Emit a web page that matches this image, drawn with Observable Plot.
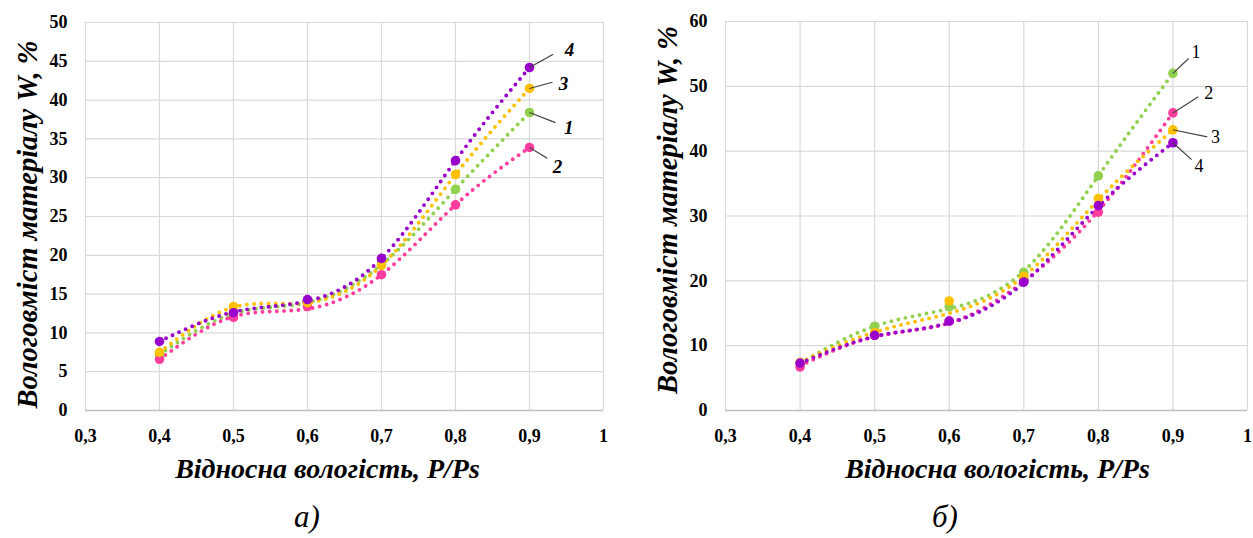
<!DOCTYPE html>
<html>
<head>
<meta charset="utf-8">
<script src="https://cdn.jsdelivr.net/npm/d3@7"></script>
<script src="https://cdn.jsdelivr.net/npm/@observablehq/plot@0.6"></script>
<style>
  html, body { margin: 0; padding: 0; background: #fff; }
  #page { position: relative; width: 1253px; height: 538px; overflow: hidden; font-family: "Liberation Serif", "Times New Roman", serif; }
  .panel { position: absolute; top: 0; }
  .panel svg { overflow: visible; font-family: "Liberation Serif", "Times New Roman", serif; }
  .cap { position: absolute; font-family: "Liberation Serif", serif; font-style: italic; font-size: 31px; color: #000; }
</style>
</head>
<body>
<div id="page">
  <div class="panel" id="left" style="left:0px"></div>
  <div class="panel" id="right" style="left:640px"></div>
  <div class="cap" style="left:294px; top:499px">а)</div>
  <div class="cap" style="left:932px; top:499px">б)</div>
</div>
<script>
// ---- data (measured points) ----
const humidity = [0.4, 0.5, 0.6, 0.7, 0.8, 0.9];
const seriesNames = ["1", "2", "3", "4"];
const seriesColors = ["#92d050", "#ff3d9e", "#ffc000", "#9900cc"];

// panel а) points
const leftS1 = [7.2, 12.6, 14.2, 18.8, 28.5, 38.4];
const leftS2 = [6.6, 12.0, 13.4, 17.5, 26.5, 33.9];
const leftS3 = [7.5, 13.4, 13.9, 18.7, 30.4, 41.5];
const leftS4 = [8.9, 12.6, 14.3, 19.6, 32.2, 44.2];
// panel а) trend line, read at the same humidity values
const leftT1 = [7.2, 12.5, 13.9, 18.8, 28.5, 38.4];
const leftT2 = [6.6, 12.1, 13.1, 17.5, 26.5, 33.9];
const leftT3 = [7.5, 13.3, 13.9, 18.7, 30.4, 41.5];
const leftT4 = [8.9, 12.7, 14.1, 19.6, 32.2, 44.2];

// panel б) points
const rightS1 = [7.3, 13.0, 16.0, 21.3, 36.2, 52.0];
const rightS2 = [6.7, 11.6, 13.8, 20.0, 30.6, 45.9];
const rightS3 = [7.4, 12.0, 16.9, 20.7, 32.7, 43.3];
const rightS4 = [7.3, 11.6, 13.8, 19.8, 31.6, 41.3];
// panel б) trend line, read at the same humidity values
const rightT1 = [7.3, 13.0, 15.7, 21.5, 36.2, 52.0];
const rightT2 = [6.9, 11.4, 13.5, 19.9, 30.8, 45.9];
const rightT3 = [7.4, 12.1, 15.0, 20.7, 32.5, 43.3];
const rightT4 = [7.3, 11.4, 13.5, 19.7, 31.5, 41.3];

const xTicks = [0.3, 0.4, 0.5, 0.6, 0.7, 0.8, 0.9, 1];
const leftYTicks = [0, 5, 10, 15, 20, 25, 30, 35, 40, 45, 50];
const rightYTicks = [0, 10, 20, 30, 40, 50, 60];

const yTitle = "Вологовміст матеріалу W, %";
const xTitle = "Відносна вологість, P/Ps";

function toRows(seriesArrays) {
  const rows = [];
  seriesArrays.forEach((arr, i) => {
    arr.forEach((v, j) => rows.push({series: seriesNames[i], x: humidity[j], y: v}));
  });
  return rows;
}

const fmtX = d => d === 1 ? "1" : d.toFixed(1).replace(".", ",");
const serif = "Liberation Serif";

function panel({rows, trend, yTicks, yMax, width, marginRight, marginTop, labels, labelStyle, yTitleDy, xTitleDx}) {
  const last = rows.filter(d => d.x === 0.9);
  const ann = labels.map(l => {
    const p = last.find(d => d.series === l.series);
    return {series: l.series, x1: p.x, y1: p.y, x2: p.x + l.lx, y2: p.y + l.ly, tx: p.x + l.tx, ty: p.y + l.ty};
  });
  return Plot.plot({
    width,
    height: 490,
    marginLeft: 85,
    marginRight,
    marginTop,
    marginBottom: 80,
    style: `font-family: 'Liberation Serif', serif; overflow: visible; background: transparent;`,
    x: {domain: [0.3, 1], ticks: xTicks},
    y: {domain: [0, yMax], ticks: yTicks},
    color: {domain: seriesNames, range: seriesColors},
    marks: [
      Plot.gridX(xTicks, {stroke: "#d9d9d9", strokeOpacity: 1, strokeWidth: 1.2}),
      Plot.gridY(yTicks, {stroke: "#d9d9d9", strokeOpacity: 1, strokeWidth: 1.2}),
      Plot.ruleY([0], {stroke: "#bfbfbf", strokeWidth: 1.5}),
      Plot.axisX(xTicks, {tickSize: 0, tickPadding: 19, tickFormat: fmtX, fontFamily: serif, fontSize: 18, fontWeight: "bold", fill: "#000", label: null}),
      Plot.axisY(yTicks, {tickSize: 0, tickPadding: 18, fontFamily: serif, fontSize: 18, fontWeight: "bold", fill: "#000", label: null}),
      Plot.text([xTitle], {frameAnchor: "bottom", lineAnchor: "middle", textAnchor: "middle", dy: 59, dx: xTitleDx, fontFamily: serif, fontSize: 28, fontWeight: "bold", fontStyle: "italic", fill: "#000"}),
      Plot.text([yTitle], {frameAnchor: "left", lineAnchor: "middle", textAnchor: "middle", rotate: -90, dx: -58, dy: yTitleDy, fontFamily: serif, fontSize: 28.5, fontWeight: "bold", fontStyle: "italic", fill: "#000"}),
      Plot.line(trend, {x: "x", y: "y", z: "series", stroke: "series", curve: "natural", strokeWidth: 3.9, strokeDasharray: "0 7.2", strokeLinecap: "round"}),
      Plot.dot(rows, {x: "x", y: "y", fill: "series", r: 4.8}),
      Plot.link(ann, {x1: "x1", y1: "y1", x2: "x2", y2: "y2", stroke: "#404040", strokeWidth: 1.2}),
      Plot.text(ann, {x: "tx", y: "ty", text: "series", fill: "#000", fontFamily: serif, ...labelStyle})
    ]
  });
}

const left = panel({
  rows: toRows([leftS1, leftS2, leftS3, leftS4]),
  trend: toRows([leftT1, leftT2, leftT3, leftT4]),
  yTicks: leftYTicks, yMax: 50, width: 626, marginRight: 23, marginTop: 22,
  yTitleDy: 8, xTitleDx: -17,
  labelStyle: {fontSize: 19, fontWeight: "bold", fontStyle: "italic"},
  labels: [
    {series: "4", lx: 0.032, ly: 1.7, tx: 0.054, ty: 2.3},
    {series: "3", lx: 0.031, ly: 0.8, tx: 0.046, ty: 0.6},
    {series: "1", lx: 0.035, ly: -1.3, tx: 0.053, ty: -2.0},
    {series: "2", lx: 0.024, ly: -1.4, tx: 0.038, ty: -2.5}
  ]
});
const right = panel({
  rows: toRows([rightS1, rightS2, rightS3, rightS4]),
  trend: toRows([rightT1, rightT2, rightT3, rightT4]),
  yTicks: rightYTicks, yMax: 60, width: 613, marginRight: 6, marginTop: 21,
  yTitleDy: -6, xTitleDx: 11,
  labelStyle: {fontSize: 18},
  labels: [
    {series: "1", lx: 0.021, ly: 2.3, tx: 0.031, ty: 3.2},
    {series: "2", lx: 0.034, ly: 2.5, tx: 0.048, ty: 3.1},
    {series: "3", lx: 0.046, ly: -1.1, tx: 0.057, ty: -1.2},
    {series: "4", lx: 0.025, ly: -2.6, tx: 0.035, ty: -3.7}
  ]
});
document.getElementById("left").appendChild(left);
document.getElementById("right").appendChild(right);
</script>
</body>
</html>
